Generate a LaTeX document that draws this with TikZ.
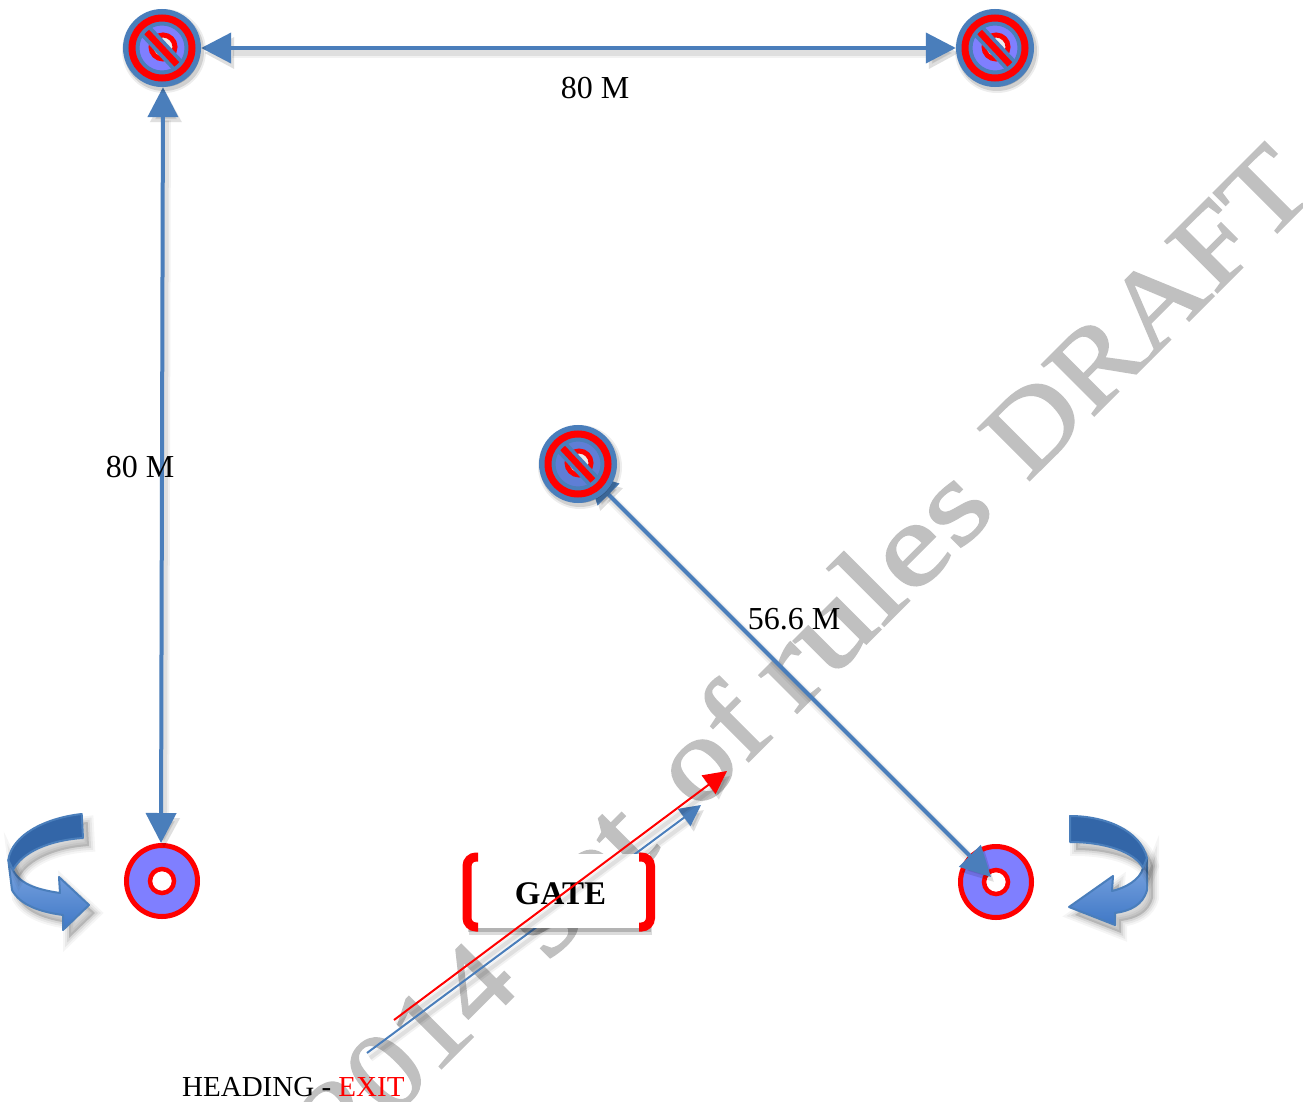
\documentclass[tikz,border=0pt]{standalone}
\usepackage{fontspec}
\usepackage{graphicx}
\setmainfont{Liberation Serif}
\newfontfamily\wmfont[FakeBold=1.5]{Liberation Serif}
\usetikzlibrary{arrows.meta,calc}
\definecolor{ablue}{HTML}{4A7EBB}
\definecolor{peri}{HTML}{7F7FFF}
\definecolor{wm}{HTML}{C0C0C0}
\definecolor{bandd}{HTML}{3366A8}
\definecolor{bandl}{HTML}{7FA7E2}
\definecolor{bandm}{HTML}{3F78C6}
\tikzset{
  x=1pt,y=-1pt,
  softa/.style={preaction={draw=black,opacity=.05,fill=none,line width=#1+6pt,transform canvas={xshift=3pt,yshift=-5pt}}},
  softb/.style={preaction={draw=black,opacity=.08,fill=none,line width=#1+2pt,transform canvas={xshift=3pt,yshift=-5pt}}},
  conn/.style={ablue,line width=4pt,softa=4pt,softb=4pt},
  connboth/.style={conn,{Triangle[length=30pt,width=30pt]}-{Triangle[length=30pt,width=30pt]}},
  headblue/.style={ablue,line width=2pt,-{Triangle[length=21pt,width=21pt]},softa=2pt,softb=2pt},
  headred/.style={red,line width=2pt,-{Triangle[length=23pt,width=23pt]},softa=2pt,softb=2pt},
  target/.style={circle,fill=peri,draw=red,line width=5pt,inner sep=0pt,minimum size=71pt,outer sep=2.5pt},
  nosign/.style={circle,fill=#1,draw=ablue,line width=6pt,inner sep=0pt,minimum size=72pt,outer sep=3pt,
    preaction={draw=black,fill=black,opacity=.07,line width=12pt,transform canvas={xshift=2pt,yshift=-3pt}},
    preaction={draw=black,fill=black,opacity=.12,line width=8pt,transform canvas={xshift=2pt,yshift=-3pt}}},
  watermark/.style={wm,rotate=45,anchor=base west,inner sep=0pt,font=\wmfont\fontsize{112}{112}\selectfont},
  lbl/.style={inner sep=0pt,font=\fontsize{32}{34}\selectfont},
  shapeshadow/.style={
    preaction={fill=black,draw=black,opacity=.04,line width=12pt,transform canvas={xshift=6pt,yshift=-8pt}},
    preaction={fill=black,draw=black,opacity=.05,line width=8pt,transform canvas={xshift=6pt,yshift=-8pt}},
    preaction={fill=black,draw=black,opacity=.07,line width=4pt,transform canvas={xshift=6pt,yshift=-8pt}}},
  bandtop/.style={fill=bandd,draw=ablue,line width=2pt,line join=round},
  bandlow/.style={top color=bandl,bottom color=bandm,draw=ablue,line width=2pt,line join=round},
  bracket/.style={red,line width=9pt,rounded corners=9pt}
}
\newcommand{\holeat}[1]{%
  \draw[red,line width=4.5pt,fill=white] (#1.center) circle[radius=12pt];}
\newcommand{\nosignparts}[1]{%
  \draw[red,line width=5pt,fill=white!85!gray] ($(#1.center)+(1,-1)$) circle[radius=12pt];
  \draw[ablue,line width=14pt] ($(#1.center)+(-20,-21)$) -- ($(#1.center)+(21,23)$);
  \draw[red,line width=6.5pt] ($(#1.center)+(-20,-21)$) -- ($(#1.center)+(21,23)$);
  \draw[ablue,line width=5pt] (#1.center) circle[radius=25pt];
  \draw[red,line width=7pt] (#1.center) circle[radius=30pt];}
\begin{document}
\begin{tikzpicture}
\clip (0,0) rectangle (1303,1102);
\fill[white] (0,0) rectangle (1303,1102);
% watermark, word by word along its baseline
\node[watermark] (w1) at (345,1165) {\scalebox{1.12}[1]{2014}};
\node[watermark] (w2) at (547,963) {\scalebox{1.3}[1.04]{set}};
\node[watermark] (w3) at (697,813) {\scalebox{1.2}[1.04]{of}};
\node[watermark] (w4) at (795,715) {\scalebox{1.32}[1.04]{rules}};
\node[watermark] (w5) at (1027,483) {\scalebox{1.12}[1]{DRAFT}};
% bottom targets
\node[target] (sw) at (162,881) {};
\node[target] (se) at (996,882) {};
\holeat{sw}\holeat{se}
% no-sign positions
\node[circle,minimum size=78pt,inner sep=0pt] (nw) at (162,48) {};
\node[circle,minimum size=78pt,inner sep=0pt] (ne) at (995,48) {};
\node[circle,minimum size=78pt,inner sep=0pt] (mid) at (578,464) {};
% connectors
\draw[connboth] (nw) -- (ne);
\draw[connboth] ([xshift=1pt]nw.south) -- ([xshift=-1pt]sw.north);
\draw[connboth,shorten <=-26pt,shorten >=7pt] (mid) -- (se.center);
% no signs
\node[nosign=peri] (nwsign) at (nw) {};
\node[nosign=peri] (nesign) at (ne) {};
\node[nosign=ablue!60!peri] (midsign) at (mid) {};
\nosignparts{nwsign}\nosignparts{nesign}\nosignparts{midsign}
% labels
\node[lbl] (l1) at (595,88) {80 M};
\node[lbl] (l2) at (140,467) {80 M};
\node[lbl] (l3) at (794,619) {56.6 M};
% heading arrows
\coordinate (bs) at (367,1053);
\coordinate (be) at (701,805);
\coordinate (rs) at (394,1020);
\coordinate (re) at (727,771);
\draw[headblue] (bs) -- (be);
% gate
\node[fill=white,inner sep=0pt,minimum width=183pt,minimum height=74pt,
  preaction={fill=black,opacity=.14,transform canvas={xshift=2pt,yshift=-7pt}},
  preaction={fill=black,opacity=.18,transform canvas={xshift=1pt,yshift=-4pt}}] (gate) at (558.5,890.5) {};
\draw[bracket] (478,857) -- (467,857) -- (467,927) -- (478,927);
\draw[bracket] (639,857) -- (650.5,857) -- (650.5,927) -- (639,927);
\node[inner sep=0pt,font=\bfseries\fontsize{33}{35}\selectfont] (gatetext) at (560.5,894) {GATE};
\draw[headred] (rs) -- (re);
\node[anchor=base west,inner sep=0pt,font=\fontsize{29}{31}\selectfont] (head) at (182,1096) {HEADING - \textcolor{red}{EXIT}};
% turning arrows
\draw[bandlow,shapeshadow] (8.3,860) -- (12,890) .. controls (20,905) and (40,912) .. (63,915) -- (63,930) -- (89,905) -- (59,877) -- (60,893) .. controls (40,890) and (20,885) .. (13,870) -- cycle;
\draw[bandtop,shapeshadow] (81.7,814) .. controls (45,818) and (12,835) .. (8.3,860) -- (13,870) .. controls (22,852) and (50,840) .. (83,838) -- cycle;
\draw[bandlow,shapeshadow] (1147,858) -- (1147,890) .. controls (1143,905) and (1130,911) .. (1115,913) -- (1115,925) -- (1069,907) -- (1113,876) -- (1112,891) .. controls (1125,888) and (1140,880) .. (1143,868) -- cycle;
\draw[bandtop,shapeshadow] (1070,816) .. controls (1105,816) and (1140,830) .. (1147,858) -- (1143,868) .. controls (1135,852) and (1105,842) .. (1070,842) -- cycle;
\end{tikzpicture}
\end{document}
